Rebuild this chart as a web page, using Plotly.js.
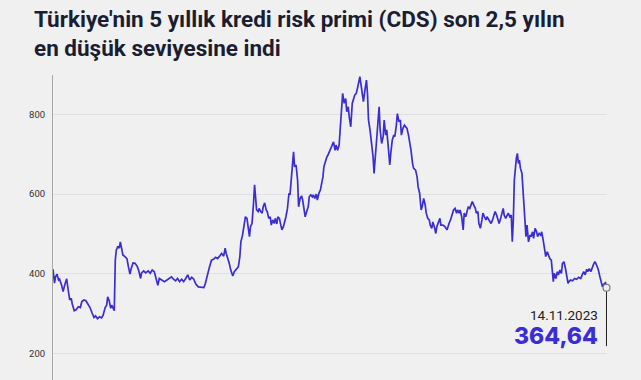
<!DOCTYPE html>
<html>
<head>
<meta charset="utf-8">
<script src="https://cdn.plot.ly/plotly-3.0.1.min.js"></script>
<style>
  html, body { margin: 0; padding: 0; background: #f0f0f0; }
  #chart { width: 641px; height: 380px; }
</style>
</head>
<body>
<div id="chart"></div>
<script>
// Start of the series; each point is given as a day offset from this date
const startDate = '2020-11-16';
const dayOffsets = [
  0,3,5,8,11,13,17,20,23,27,30,33,36,38,42,46,50,54,57,61,65,69,73,77,81,84,88,92,96,99,
  103,106,108,111,114,116,119,121,123,125,128,131,133,136,138,142,146,149,152,154,158,162,166,169,173,175,179,183,
  188,192,196,200,204,207,210,214,220,225,230,234,238,242,246,250,254,258,262,266,270,274,278,282,287,292,298,301,
  305,309,313,317,321,325,329,333,337,340,342,345,348,351,355,358,362,366,369,
  371,374,377,380,383,385,388,390,393,396,398,400,402,405,407,410,413,415,418,421,423,426,429,431,434,437,439,442,444,447,
  450,452,455,458,460,463,466,468,471,473,475,477,480,483,485,488,491,493,496,498,501,504,506,509,512,514,517,520,522,525,
  528,530,533,535,538,541,543,546,549,551,554,557,559,562,565,567,
  570,572,575,578,580,583,585,588,591,593,596,599,601,604,606,609,611,613,616,619,621,623,626,629,632,634,637,640,642,644,
  646,649,652,654,657,659,662,665,667,670,673,675,678,680,683,686,688,691,694,696,699,702,704,707,710,712,716,719,721,724,
  727,729,732,735,737,740,743,745,748,750,753,756,758,761,764,766,770,774,778,782,785,789,791,794,797,799,802,804,807,810,
  812,815,818,820,823,826,828,831,834,836,839,841,844,847,849,852,855,857,860,862,865,868,870,873,876,878,881,884,886,889,
  891,894,897,899,902,905,907,909,911,913,915,917,919,921,923,926,929,931,934,936,939,942,944,947,949,952,955,957,960,963,
  965,968,971,973,976,979,981,984,986,988,990,993,996,998,1001,1004,1006,1009,1012,1014,1017,1019,1022,1026,1030,1034,1038,1042,1046,1048,
  1051,1054,1056,1059,1062,1064,1067,1070,1072,1075,1077,1080,1083,1085,1088,1091,1093
];
// 5-year CDS (basis points)
const cds = [
  411,376,392,399,384,386,371,355,371,387,359,334,338,324,307,310,317,315,330,334,332,324,315,302,290,294,287,292,289,296,
  315,321,342,332,313,321,313,307,434,459,469,464,480,464,447,443,438,417,399,411,427,426,419,409,388,402,407,402,
  407,401,409,405,388,371,388,384,380,384,388,392,386,382,388,380,386,380,388,397,384,391,386,374,367,366,365,376,
  401,417,434,436,441,438,444,451,444,464,451,441,426,409,394,405,411,417,443,
  480,495,515,543,539,514,493,518,526,577,623,593,560,556,564,556,552,568,578,560,556,539,543,522,535,526,539,525,543,539,
  522,510,518,530,543,564,602,598,643,677,706,669,673,635,568,589,595,585,560,543,556,568,593,598,593,598,589,600,585,602,
  610,623,643,669,685,694,698,706,715,723,731,710,723,710,723,761,
  811,853,828,840,807,819,794,769,828,840,849,853,869,882,895,869,853,832,861,886,853,786,761,727,694,652,694,752,786,819,
  761,727,744,786,748,761,719,673,702,736,748,744,773,802,782,786,748,765,773,769,765,748,736,710,677,665,660,643,618,602,
  560,568,589,572,552,539,535,522,514,530,518,501,518,530,539,522,522,518,510,526,535,552,560,564,552,560,552,560,543,510,
  552,543,560,568,564,577,581,572,564,552,556,526,514,535,552,543,535,543,535,530,526,535,543,556,547,535,526,539,552,564,
  547,539,547,552,543,547,480,535,635,665,690,702,677,685,665,652,602,560,493,522,480,497,493,505,489,514,505,493,501,497,
  505,484,455,443,455,443,438,434,401,380,401,388,405,397,409,401,426,430,413,392,376,380,384,382,388,386,391,388,397,405,
  397,411,405,413,405,413,422,430,426,416,409,392,376,367,374,377,364.64
];
const yTicks = [200, 400, 600, 800];
const titleText = "Türkiye'nin 5 yıllık kredi risk primi (CDS) son 2,5 yılın<br>en düşük seviyesine indi";
const lastDateLabel = '14.11.2023';
const lastValueLabel = '364,64';

function addDays(s, n) {
  const d = new Date(s + 'T00:00:00Z');
  d.setUTCDate(d.getUTCDate() + n);
  return d.toISOString().slice(0, 10);
}
const dates = dayOffsets.map(n => addDays(startDate, n));
const lastDate = dates[dates.length - 1];
const lastVal = cds[cds.length - 1];

const lineColor = '#3b2dd4';

const traces = [
  {
    x: dates, y: cds, type: 'scatter', mode: 'lines',
    line: { color: lineColor, width: 1.7 },
    hoverinfo: 'skip'
  },
  {
    x: [lastDate], y: [lastVal], type: 'scatter', mode: 'markers',
    cliponaxis: false,
    marker: { size: 7, color: '#eeeeee', line: { color: '#777777', width: 1.2 } },
    hoverinfo: 'skip'
  }
];

const layout = {
  width: 641, height: 380,
  paper_bgcolor: '#f0f0f0', plot_bgcolor: '#f0f0f0',
  margin: { l: 53, r: 34, t: 75, b: 0, pad: 0 },
  showlegend: false,
  font: { family: 'Roboto, sans-serif', color: '#333333' },
  title: {
    text: titleText,
    font: { family: 'Roboto, sans-serif', size: 22.5, weight: 'bold', color: '#1b1e33' },
    x: 34 / 641, xref: 'container', xanchor: 'left',
    y: 1 - 27 / 380, yref: 'container', yanchor: 'top'
  },
  xaxis: {
    type: 'date',
    range: [addDays(startDate, 0), addDays(startDate, 1094)],
    showgrid: false, zeroline: false, showline: false,
    showticklabels: false, ticks: ''
  },
  yaxis: {
    range: [133, 899],
    tickvals: yTicks, ticktext: yTicks.map(String),
    showgrid: true, gridcolor: '#e0e0e0', gridwidth: 1,
    zeroline: false,
    showline: true, linecolor: '#a8a8a8', linewidth: 1,
    ticks: '', ticklabelstandoff: 5,
    tickfont: { size: 9.5, color: '#333333', family: 'Roboto, sans-serif' }
  },
  shapes: [
    {
      type: 'line', xref: 'x', yref: 'y',
      x0: lastDate, x1: lastDate, y0: lastVal, y1: 218,
      line: { color: '#222222', width: 1 }, layer: 'below'
    }
  ],
  annotations: [
    {
      xref: 'x', yref: 'y', x: lastDate, y: 296,
      text: lastDateLabel, showarrow: false,
      xanchor: 'right', yanchor: 'middle', xshift: -6,
      font: { family: 'Roboto, sans-serif', size: 13.5, color: '#222222' }
    },
    {
      xref: 'x', yref: 'y', x: lastDate, y: 243,
      text: lastValueLabel, showarrow: false,
      xanchor: 'right', yanchor: 'middle', xshift: -6,
      font: { family: 'Inter, sans-serif', size: 23, weight: 800, color: lineColor }
    }
  ]
};

Plotly.newPlot('chart', traces, layout, { staticPlot: true, displayModeBar: false });
</script>
</body>
</html>
